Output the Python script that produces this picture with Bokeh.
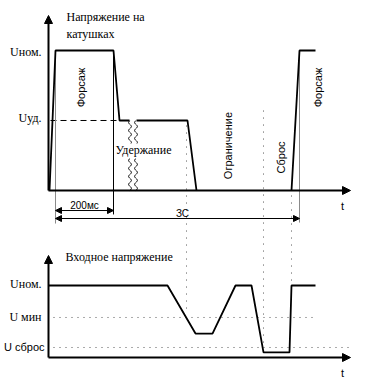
import numpy as np
from bokeh.plotting import figure
from bokeh.models import Range1d, Arrow, NormalHead
from bokeh.core.properties import value
from bokeh.embed import file_html
from bokeh.resources import INLINE

# ---------------- data (shared time axis, arbitrary units) ----------------
# Top panel: coil voltage, U_nom = 1
coil_t1 = [1, 7, 65, 71, 81]
coil_u1 = [0, 1, 1, 0.5, 0.5]
coil_t2 = [88, 139, 148]
coil_u2 = [0.5, 0.5, 0]
coil_t3 = [243, 251, 267]
coil_u3 = [0, 1, 1]
U_NOM_TOP = 1.0
U_UD = 0.5

# Bottom panel: input voltage
inp_t = [0, 119, 147, 164, 187, 203, 215, 241, 243, 267]
inp_u = [1, 1, 0.333, 0.333, 1, 1, 0.07, 0.07, 1, 1]
U_NOM_LOW = 1.0
U_MIN = 0.556
U_SBROS = 0.139

# Event markers (dotted verticals): time, start level (top panel), end level (bottom panel)
event_t = [138, 215, 243]
event_top = [0.464, 0.571, -0.036]
event_low = [0.625, 0.167, 1.03]

# Time marks
T_FORS_START = 7
T_FORS_END = 65
T_ZS_END = 251
T_END = 302

# break (wavy) marks in the hold phase
wave_t = [81.5, 87.5]

# ---------------- figure ----------------
TOP = (-1.3571, 1.3571)
LOW = (-0.3194, 4.9583)
p = figure(width=365, height=380, x_range=Range1d(-48, 317), y_range=Range1d(*TOP),
           output_backend="svg", toolbar_location=None, min_border=0, title=None)
p.extra_y_ranges = {"low": Range1d(*LOW)}
p.axis.visible = False
p.grid.visible = False
p.outline_line_color = None
p.background_fill_color = "white"


def top_to_low(u):
    f = (TOP[1] - u) / (TOP[1] - TOP[0])
    return LOW[1] - f * (LOW[1] - LOW[0])


BLACK = "#000000"
GREY = "#8a8a8a"
DOT = "#555555"
SERIF = value("serif")
SANS = value("Liberation Sans")

# ---- axes with arrows ----
def axis_arrow(x0, y0, x1, y1, rng="default", size=8):
    p.add_layout(Arrow(end=NormalHead(size=size, fill_color=BLACK, line_color=BLACK, line_width=1),
                       x_start=x0, y_start=y0, x_end=x1, y_end=y1,
                       line_color=BLACK, line_width=2, y_range_name=rng))

axis_arrow(0, 0, T_END, 0)
axis_arrow(0, 0, 0, 1.25)
axis_arrow(0, 0, T_END, 0, "low")
axis_arrow(0, 0, 0, 1.417, "low")

# ---- level reference lines ----
p.line([2, 70], [U_UD, U_UD], line_color=BLACK, line_width=1, line_dash="6 4")
p.line([5, 267], [U_MIN, U_MIN], line_color=DOT, line_width=1, line_dash="1 5", y_range_name="low")
p.line([5, 304], [U_SBROS, U_SBROS], line_color=DOT, line_width=1, line_dash="1 5", y_range_name="low")

# ---- event dotted verticals (span both panels) ----
for t, a, b in zip(event_t, event_top, event_low):
    p.line([t, t], [top_to_low(a), b], line_color=DOT, line_width=1, line_dash="1 6", y_range_name="low")

# ---- extension lines ----
p.line([T_FORS_START, T_FORS_START], [U_NOM_TOP, -0.236], line_color=GREY, line_width=1)
p.line([T_ZS_END, T_ZS_END], [U_NOM_TOP, -0.229], line_color=GREY, line_width=1)
p.line([T_FORS_END, T_FORS_END], [U_NOM_TOP, -0.171], line_color=BLACK, line_width=1)

# ---- dimension lines ----
def dim(x0, x1, y):
    p.add_layout(Arrow(start=NormalHead(size=6, fill_color=BLACK, line_color=BLACK),
                       end=NormalHead(size=6, fill_color=BLACK, line_color=BLACK),
                       x_start=x0, y_start=y, x_end=x1, y_end=y, line_color=BLACK, line_width=1))

dim(T_FORS_START, T_FORS_END, -0.143)
dim(T_FORS_START, T_ZS_END, -0.2)

# ---- traces ----
for tt, uu in ((coil_t1, coil_u1), (coil_t2, coil_u2), (coil_t3, coil_u3)):
    p.line(tt, uu, line_color=BLACK, line_width=1.8)
p.line(inp_t, inp_u, line_color=BLACK, line_width=1.8, y_range_name="low")

# ---- wavy break marks ----
for t0 in wave_t:
    for u_a, u_b in ((U_UD, 0.336), (0.229, 0.0)):
        uu = np.linspace(u_a, u_b, 60)
        tt = t0 + 1.4 * np.sin(2 * np.pi * (uu - u_a) / 0.057)
        p.line(tt, uu, line_color=BLACK, line_width=1)

# ---- labels ----
def label(txt, x, y, font, align="left", angle=0.0, size="11px", rng="default", yoff=0):
    p.text(x=[x], y=[y], text=[txt], text_font=font, text_font_size=size,
           text_align=align, text_baseline="middle", angle=angle, y_offset=yoff,
           text_color=BLACK, y_range_name=rng)

label("Напряжение на", 18, 1.236, SERIF, size="12px")
label("катушках", 18, 1.121, SERIF, size="12px")
label("Uном.", -7, U_NOM_TOP, SERIF, "right", size="12px", yoff=2)
label("Uуд.", -7, U_UD, SERIF, "right", size="12px", yoff=-2)
label("Форсаж", 32, 0.736, SANS, "center", np.pi / 2)
label("Удержание", 95, 0.286, SERIF, "center", size="12px")
label("Ограничение", 179, 0.321, SANS, "center", np.pi / 2)
label("Сброс", 232, 0.236, SANS, "center", np.pi / 2)
label("Форсаж", 269, 0.736, SANS, "center", np.pi / 2)
label("200мс", 36, -0.107, SANS, "center", size="10px")
label("ЗС", 134, -0.164, SANS, "center", size="10px")
label("t", 294, -0.114, SANS, "center")

label("Входное напряжение", 17, 1.389, SERIF, size="12px", rng="low")
label("Uном.", -7, U_NOM_LOW, SERIF, "right", size="12px", rng="low", yoff=-2)
label("U мин", -7, U_MIN, SERIF, "right", size="12px", rng="low")
label("U сброс", -4, U_SBROS, SANS, "right", rng="low")
label("t", 294, -0.222, SANS, "center", rng="low")

open("out.html", "w").write(file_html(p, INLINE))
